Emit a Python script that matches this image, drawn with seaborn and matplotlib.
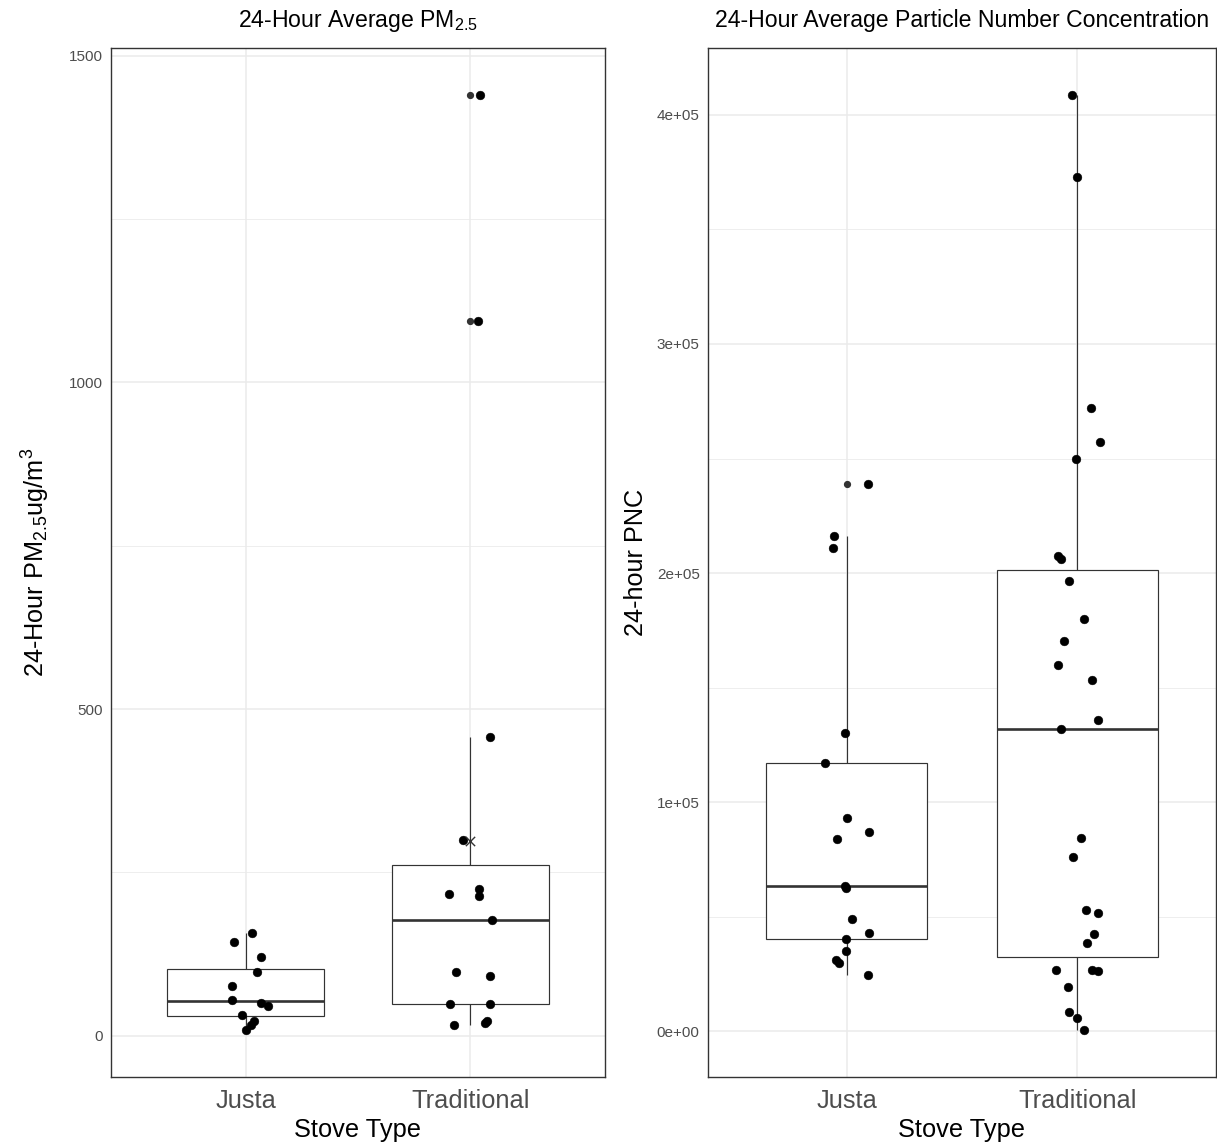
import numpy as np
import pandas as pd
import matplotlib
matplotlib.use("Agg")
import matplotlib.pyplot as plt
import matplotlib.ticker as mticker
import seaborn as sns

# ---------------- data ----------------
stove_types = ["Justa", "Traditional"]

pm_justa = [144, 158, 120.7, 97, 77, 55, 50.4, 46, 32.6, 23, 16.8, 8.6]
pm_justa_jitter = [-0.053, 0.027, 0.067, 0.049, -0.062, -0.062, 0.067, 0.098, -0.018, 0.036, 0.022, 0.0]

pm_trad = [1440, 1094, 458, 299, 224, 217, 214, 177, 98, 92, 49, 49, 16.8, 20, 22]
pm_trad_jitter = [0.045, 0.036, 0.089, -0.031, 0.040, -0.094, 0.040, 0.098, -0.062, 0.089,
                  -0.089, 0.089, -0.071, 0.067, 0.076]

pnc_justa = [239000, 216000, 211000, 130000, 117000, 93000, 87000, 84000, 63300, 62500,
             49000, 43000, 40300, 34800, 31100, 29900, 24400]
pnc_justa_jitter = [0.094, -0.053, -0.059, -0.006, -0.092, 0.003, 0.099, -0.040, -0.006, -0.004,
                    0.022, 0.099, -0.002, -0.002, -0.046, -0.032, 0.094]

pnc_trad = [408700, 373000, 271900, 257300, 250000, 207600, 206300, 196700, 180000, 170500,
            159800, 153200, 135900, 131900, 84300, 75900, 52900, 51800, 42300, 38400,
            26600, 26600, 26100, 19300, 8300, 5900, 400]
pnc_trad_jitter = [-0.024, 0.0, 0.057, 0.096, -0.006, -0.085, -0.073, -0.035, 0.027, -0.057,
                   -0.085, 0.062, 0.088, -0.071, 0.016, -0.021, 0.037, 0.089, 0.072, 0.043,
                   -0.091, 0.065, 0.089, -0.040, -0.035, 0.0, 0.027]

pm_ticks = [0, 500, 1000, 1500]
pnc_ticks = [0, 100000, 200000, 300000, 400000]

# ---------------- styling ----------------
sns.set_theme(style="white")
plt.rcParams["font.family"] = ["Liberation Sans", "DejaVu Sans"]
plt.rcParams["mathtext.fontset"] = "custom"
plt.rcParams["mathtext.rm"] = "Liberation Sans"
plt.rcParams["mathtext.it"] = "Liberation Sans:italic"
plt.rcParams["mathtext.bf"] = "Liberation Sans:bold"

DPI = 100
fig = plt.figure(figsize=(12.17, 11.45), dpi=DPI)
W, H = 1217, 1145

def axes_px(x0, x1, y0, y1):
    return fig.add_axes([x0 / W, 1 - y1 / H, (x1 - x0) / W, (y1 - y0) / H])

ax1 = axes_px(111, 605, 48, 1077)
ax2 = axes_px(708, 1216, 48, 1077)

EDGE = "#333333"
GRID = "#EBEBEB"


def panel(ax, justa, justa_jit, trad, trad_jit, ticks, minor, ylim, fmt, title, ylabel,
          ylabelpad, show_mean=False):
    df = pd.DataFrame({
        "stove": ["Justa"] * len(justa) + ["Traditional"] * len(trad),
        "value": list(justa) + list(trad),
    })
    sns.boxplot(data=df, x="stove", y="value", order=stove_types, ax=ax,
                width=0.7, color="white", linecolor=EDGE, linewidth=0.85,
                fliersize=4.2, showcaps=False,
                flierprops=dict(marker="o", markerfacecolor="#333333",
                                markeredgecolor="#333333"),
                medianprops=dict(linewidth=1.9, color=EDGE),
                zorder=2)
    jx = [0 + j for j in justa_jit] + [1 + j for j in trad_jit]
    pts = pd.DataFrame({"x": jx, "y": list(justa) + list(trad)})
    sns.scatterplot(data=pts, x="x", y="y", ax=ax, color="black", s=40,
                    edgecolor="black", linewidth=0.3, zorder=3, legend=False)
    if show_mean:
        m = pd.DataFrame({"x": [1], "y": [np.mean(trad)]})
        sns.scatterplot(data=m, x="x", y="y", ax=ax, marker="x", color="#333333",
                        s=45, linewidth=1.0, zorder=4, legend=False)

    ax.set_xlim(-0.6, 1.6)
    ax.set_ylim(*ylim)
    ax.set_xticks([0, 1])
    ax.set_xticklabels(stove_types)
    ax.set_yticks(ticks)
    ax.yaxis.set_major_formatter(mticker.FuncFormatter(fmt))
    ax.set_yticks(minor, minor=True)
    ax.set_axisbelow(True)
    ax.grid(True, which="major", color=GRID, linewidth=1.1)
    ax.grid(True, which="minor", axis="y", color=GRID, linewidth=0.6)
    ax.tick_params(axis="y", which="minor", length=0)
    ax.tick_params(axis="both", which="major", direction="out", length=4,
                   width=0.8, color=EDGE, labelcolor="#4D4D4D", pad=2)
    ax.tick_params(axis="x", labelsize=18.3, pad=5)
    ax.tick_params(axis="y", labelsize=11)
    for sp in ax.spines.values():
        sp.set_color(EDGE)
        sp.set_linewidth(1.0)
        sp.set_visible(True)
    ax.set_xlabel("Stove Type", fontsize=18.3, color="black", labelpad=3)
    ax.set_ylabel(ylabel, fontsize=18.2, color="black", labelpad=ylabelpad)
    ax.set_title(title, fontsize=16.6, color="black", pad=15)


panel(ax1, pm_justa, pm_justa_jitter, pm_trad, pm_trad_jitter,
      pm_ticks, [250, 750, 1250], (-63, 1511.6),
      lambda v, p: f"{v:.0f}",
      r"24-Hour Average PM$_{2.5}$", r"24-Hour PM$_{2.5}$ug/m$^{3}$", 12, show_mean=True)

panel(ax2, pnc_justa, pnc_justa_jitter, pnc_trad, pnc_trad_jitter,
      pnc_ticks, [50000, 150000, 250000, 350000], (-20000, 429200),
      lambda v, p: f"{v:.0e}",
      "24-Hour Average Particle Number Concentration", "24-hour PNC", 6)

fig.savefig("out.png", dpi=DPI)
